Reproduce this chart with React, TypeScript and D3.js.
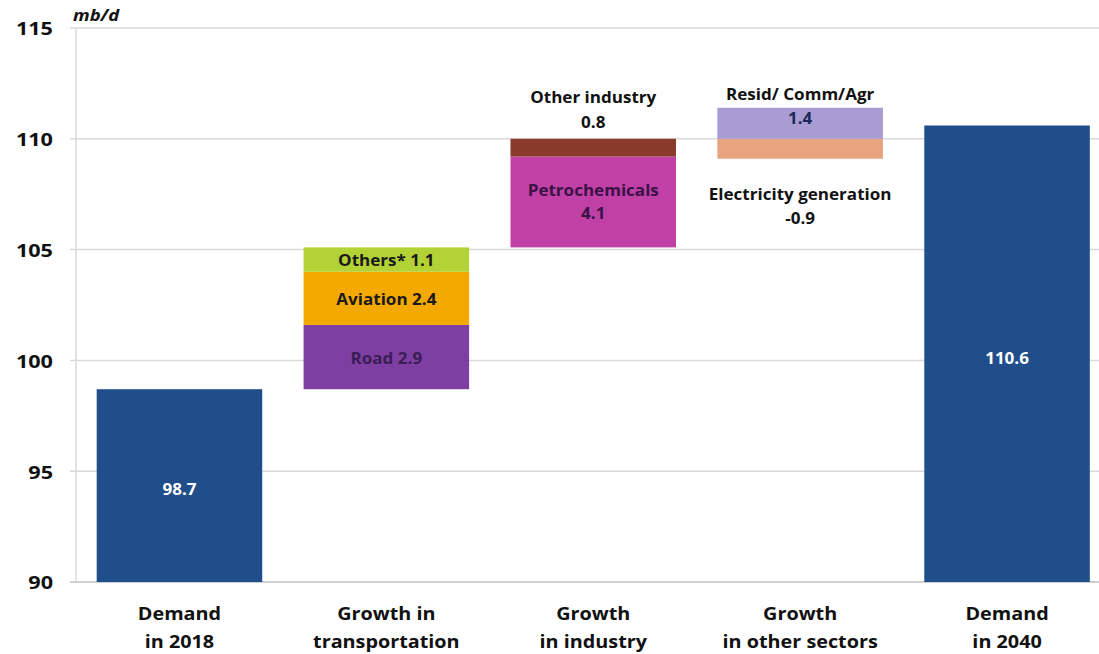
import React from "react";
import * as d3 from "d3";

const categories: string[][] = [
  ["Demand", "in 2018"],
  ["Growth in", "transportation"],
  ["Growth", "in industry"],
  ["Growth", "in other sectors"],
  ["Demand", "in 2040"],
];
const yTicks = [90, 95, 100, 105, 110, 115];
const demand2018 = 98.7;
const demand2040 = 110.6;
const transportNames = ["Road", "Aviation", "Others*"];
const transportValues = [2.9, 2.4, 1.1];
const transportColors = ["#7E3FA2", "#F4A900", "#B3D235"];
const industryNames = ["Petrochemicals", "Other industry"];
const industryValues = [4.1, 0.8];
const industryColors = ["#C040A6", "#8A3A2B"];
const otherNames = ["Electricity generation", "Resid/ Comm/Agr"];
const otherValues = [-0.9, 1.4];
const otherColors = ["#E9A37F", "#A99CD3"];
const totalColor = "#1F4E8B";

const W = 1099;
const H = 654;
const FONT = "'Open Sans', Lato, sans-serif";

type Seg = { name: string; value: number; y0: number; y1: number; color: string };

function stack(base: number, names: string[], values: number[], colors: string[]): Seg[] {
  let pos = base;
  let neg = base;
  return values.map((v, i) => {
    if (v >= 0) {
      const s = { name: names[i], value: v, y0: pos, y1: pos + v, color: colors[i] };
      pos += v;
      return s;
    }
    const s = { name: names[i], value: v, y0: neg + v, y1: neg, color: colors[i] };
    neg += v;
    return s;
  });
}

function T(props: {
  x: number;
  y: number;
  children: React.ReactNode;
  size?: number;
  fill?: string;
  anchor?: "start" | "middle" | "end";
  sx?: number;
  italic?: boolean;
}) {
  const { x, y, children, size = 15.5, fill = "#111", anchor = "middle", sx = 1.1, italic } = props;
  return (
    <g transform={`translate(${x},${y}) scale(${sx},1)`}>
      <text
        x={0}
        y={0}
        textAnchor={anchor}
        dominantBaseline="central"
        fontFamily={FONT}
        fontWeight="bold"
        fontStyle={italic ? "italic" : "normal"}
        fontSize={size}
        fill={fill}
      >
        {children}
      </text>
    </g>
  );
}

export default function App() {
  const y = d3.scaleLinear().domain([90, 115]).range([582, 28]);
  const x = d3
    .scaleBand<number>()
    .domain(categories.map((_, i) => i))
    .range([76, 1110.5])
    .paddingInner(0.2)
    .paddingOuter(0.1);
  const bw = x.bandwidth();
  const cx = (i: number) => (x(i) as number) + bw / 2;

  const transportBase = demand2018;
  const industryBase = transportBase + d3.sum(transportValues);
  const otherBase = industryBase + d3.sum(industryValues);

  const transport = stack(transportBase, transportNames, transportValues, transportColors);
  const industry = stack(industryBase, industryNames, industryValues, industryColors);
  const other = stack(otherBase, otherNames, otherValues, otherColors);

  const fmt = (v: number) => d3.format(".1f")(v).replace("\u2212", "-");
  const mid = (s: Seg) => (y(s.y0) + y(s.y1)) / 2;

  const segRect = (s: Seg, i: number, key: string) => (
    <rect
      key={key}
      x={x(i)}
      y={y(s.y1)}
      width={bw}
      height={y(s.y0) - y(s.y1)}
      fill={s.color}
    />
  );

  return (
    <svg
      width={W}
      height={H}
      style={{ position: "absolute", left: 0, top: 0, background: "#fff" }}
    >
      {yTicks.map((t) => (
        <line
          key={"g" + t}
          x1={70}
          x2={W}
          y1={y(t)}
          y2={y(t)}
          stroke={t === 90 ? "#bfbfbf" : "#d9d9d9"}
          strokeWidth={1.5}
        />
      ))}
      <line x1={76} x2={76} y1={y(115)} y2={y(90)} stroke="#d9d9d9" strokeWidth={1.5} />
      {yTicks.map((t) => (
        <T key={"t" + t} x={53} y={y(t)} anchor="end" size={18.5} sx={1.17}>
          {t}
        </T>
      ))}
      <T x={73} y={15} anchor="start" size={16} sx={1.15} italic>
        mb/d
      </T>

      <rect x={x(0)} y={y(demand2018)} width={bw} height={y(90) - y(demand2018)} fill={totalColor} />
      <rect x={x(4)} y={y(demand2040)} width={bw} height={y(90) - y(demand2040)} fill={totalColor} />
      <T x={cx(0)} y={489} fill="#fff">{fmt(demand2018)}</T>
      <T x={cx(4)} y={358} fill="#fff">{fmt(demand2040)}</T>

      {transport.map((s, k) => segRect(s, 1, "tr" + k))}
      {transport.map((s, k) => (
        <T key={"trl" + k} x={cx(1)} y={mid(s) + 1} fill={k === 0 ? "#3a1d55" : "#1a1a1a"}>
          {`${s.name} ${fmt(s.value)}`}
        </T>
      ))}

      {industry.map((s, k) => segRect(s, 2, "in" + k))}
      <T x={cx(2)} y={mid(industry[0]) - 12} fill="#3a1246">{industry[0].name}</T>
      <T x={cx(2)} y={mid(industry[0]) + 11} fill="#3a1246">{fmt(industry[0].value)}</T>
      <T x={cx(2)} y={y(industry[1].y1) - 42}>{industry[1].name}</T>
      <T x={cx(2)} y={y(industry[1].y1) - 17}>{fmt(industry[1].value)}</T>

      {other.map((s, k) => segRect(s, 3, "ot" + k))}
      <T x={cx(3)} y={y(other[1].y1) - 13}>{other[1].name}</T>
      <T x={cx(3)} y={y(other[1].y1) + 11} fill="#1f2a5a">{fmt(other[1].value)}</T>
      <T x={cx(3)} y={y(other[0].y0) + 36}>{other[0].name}</T>
      <T x={cx(3)} y={y(other[0].y0) + 60}>{fmt(other[0].value)}</T>

      {categories.map((lines, i) =>
        lines.map((l, j) => (
          <T key={"c" + i + j} x={cx(i)} y={613 + j * 28} size={18} sx={1.1}>
            {l}
          </T>
        ))
      )}
    </svg>
  );
}
